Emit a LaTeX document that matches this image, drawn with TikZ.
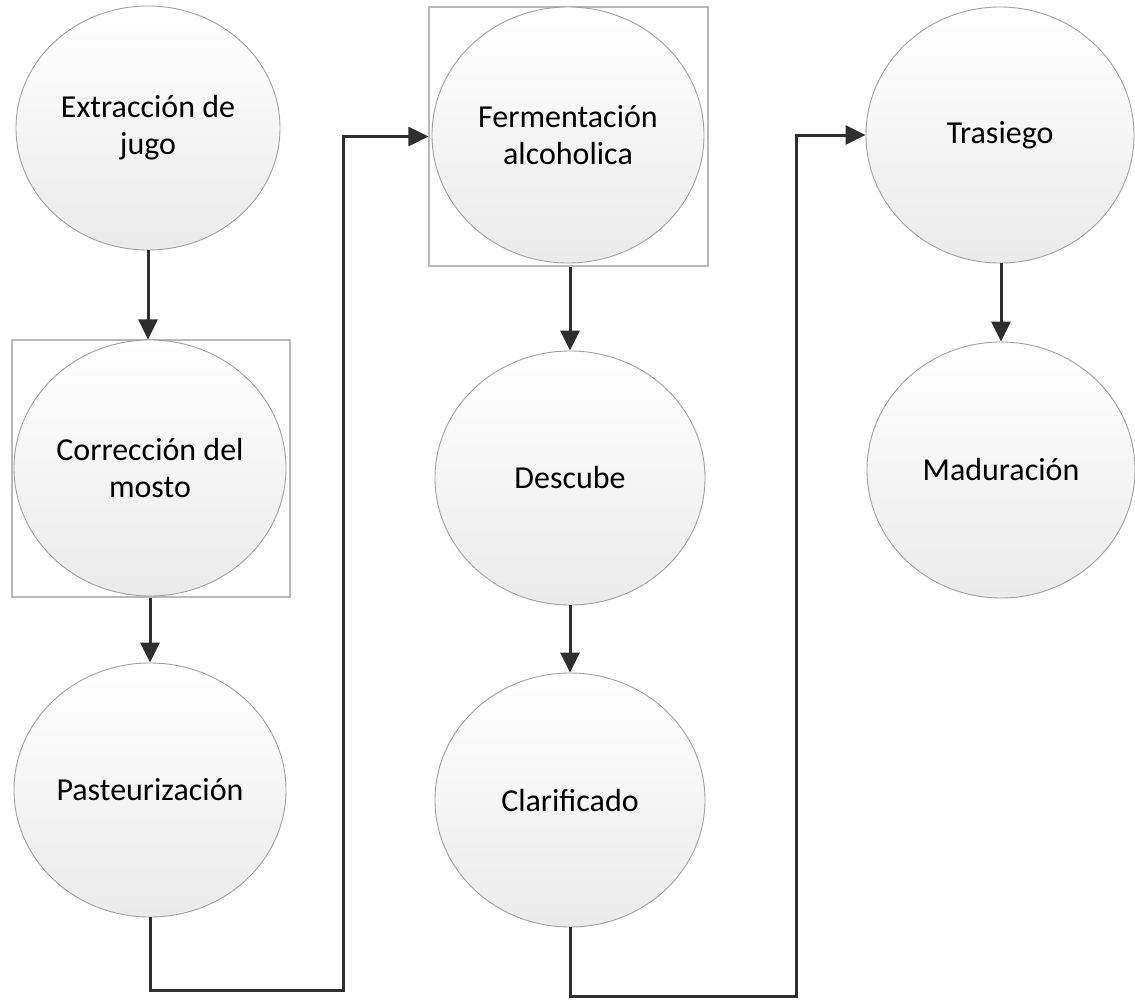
\documentclass[tikz,border=0pt]{standalone}
\usepackage{fontspec}
\setmainfont{Carlito}
\usetikzlibrary{shapes.geometric,arrows.meta}
\begin{document}
\begin{tikzpicture}[x=1pt,y=-1pt,
  stage/.style={ellipse, draw=gray!75, line width=0.9pt, top color=white, bottom color=black!8,
    inner sep=0pt, align=center, text=black, font=\fontsize{32}{37}\selectfont},
  frame/.style={rectangle, draw=gray!55, line width=1.2pt, fill=white, inner sep=0pt},
  conn/.style={draw=black!82, line width=3pt, -{Triangle[width=19pt,length=20pt]}}]
\useasboundingbox (0,0) rectangle (1135,1001);
\fill[white] (0,0) rectangle (1135,1001);

\node[frame, minimum width=278pt, minimum height=257pt] (corbox) at (151,468.5) {};
\node[frame, minimum width=279pt, minimum height=259pt] (ferbox) at (568.5,136.5) {};

\node[stage, minimum width=264pt, minimum height=244pt] (ext) at (148,128) {Extracción de\\jugo};
\node[stage, minimum width=272pt, minimum height=256pt] (cor) at (150,468) {Corrección del\\mosto};
\node[stage, minimum width=272pt, minimum height=254pt] (pas) at (150,790) {Pasteurización};
\node[stage, minimum width=272pt, minimum height=256pt] (fer) at (568,135) {Fermentación\\alcoholica};
\node[stage, minimum width=270pt, minimum height=254pt] (des) at (570,478) {Descube};
\node[stage, minimum width=270pt, minimum height=254pt] (cla) at (570,800) {Clarificado};
\node[stage, minimum width=268pt, minimum height=256pt] (tra) at (1000,135) {Trasiego};
\node[stage, minimum width=268pt, minimum height=256pt] (mad) at (1001,470) {Maduración};

\coordinate (l1) at (343,990);
\coordinate (l2) at (796,996);

\draw[conn] (ext.south) -- (ext.south |- corbox.north);
\draw[conn] (corbox.south -| pas.north) -- (pas.north);
\draw[conn] (pas.south) |- (l1) |- (ferbox.west);
\draw[conn] (ferbox.south -| des.north) -- (des.north);
\draw[conn] (des.south) -- (cla.north);
\draw[conn] (cla.south) |- (l2) |- (tra.west);
\draw[conn] (tra.south -| mad.north) -- (mad.north);
\end{tikzpicture}
\end{document}
